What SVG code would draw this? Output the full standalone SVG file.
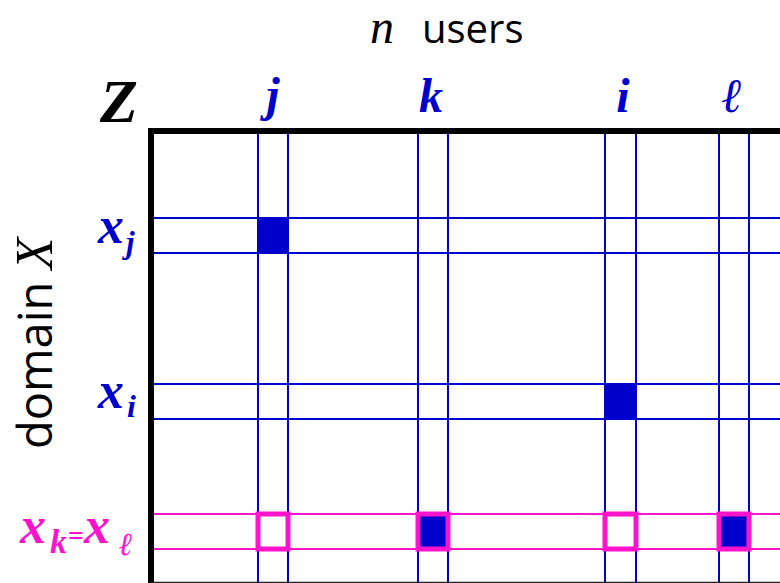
<svg xmlns="http://www.w3.org/2000/svg" width="780" height="583" viewBox="0 0 780 583">
<style>
.bl{stroke:#0000CC;stroke-width:2;fill:none}
.mg{stroke:#FF14CC;stroke-width:2;fill:none}
.mbox{stroke:#FF14CC;stroke-width:5}
.fill{fill:#0000CC}
.lbl{font-family:"Liberation Serif","DejaVu Serif",serif;font-weight:bold;font-style:italic}
.blue{fill:#0000CC}
.mag{fill:#FF14CC}
.sans{font-family:"Open Sans","Liberation Sans",sans-serif}
</style>
<rect width="780" height="583" fill="#fff"/>
<g id="title">
<text x="370" y="43" font-family="Liberation Serif, serif" font-style="italic" font-size="48">n</text>
<text x="422" y="43" class="sans" font-size="40">users</text>
</g>
<g id="domain-label">
<text transform="translate(52,449) rotate(-90)" class="sans" font-size="47">domain <tspan font-family="Liberation Serif, serif" font-style="italic" font-size="52">X</tspan></text>
</g>
<g id="connectors">
<line class="bl" x1="258" y1="131" x2="258" y2="583"/>
<line class="bl" x1="288" y1="131" x2="288" y2="583"/>
<line class="bl" x1="418" y1="131" x2="418" y2="583"/>
<line class="bl" x1="448" y1="131" x2="448" y2="583"/>
<line class="bl" x1="605" y1="131" x2="605" y2="583"/>
<line class="bl" x1="636" y1="131" x2="636" y2="583"/>
<line class="bl" x1="719" y1="131" x2="719" y2="583"/>
<line class="bl" x1="749" y1="131" x2="749" y2="583"/>
<line class="bl" x1="152" y1="218" x2="780" y2="218"/>
<line class="bl" x1="152" y1="253" x2="780" y2="253"/>
<line class="bl" x1="152" y1="384" x2="780" y2="384"/>
<line class="bl" x1="152" y1="419" x2="780" y2="419"/>
<line class="mg" x1="152" y1="514" x2="780" y2="514"/>
<line class="mg" x1="152" y1="549" x2="780" y2="549"/>
</g>
<g id="matrix-border">
<path d="M151 583 V131 H780" fill="none" stroke="#000" stroke-width="6"/>
<line x1="150" y1="582.5" x2="780" y2="582.5" stroke="#222" stroke-width="1.5"/>
</g>
<g id="cell-j"><rect class="fill" x="258" y="218" width="30" height="35"/></g>
<g id="cell-i"><rect class="fill" x="605" y="384" width="31" height="35"/></g>
<g id="cell-kl-j"><rect class="mbox" fill="none" x="258" y="514" width="30" height="35"/></g>
<g id="cell-kl-k"><rect class="mbox fill" x="418" y="514" width="30" height="35"/></g>
<g id="cell-kl-i"><rect class="mbox" fill="none" x="605" y="514" width="31" height="35"/></g>
<g id="cell-kl-l"><rect class="mbox fill" x="719" y="514" width="30" height="35"/></g>
<g id="col-labels" class="lbl blue" font-size="48" text-anchor="middle">
<text x="100" y="122" font-size="62" fill="#000" text-anchor="start">Z</text>
<text x="273" y="111">j</text>
<text x="431" y="112">k</text>
<text x="623" y="112">i</text>
<text x="732" y="112">ℓ</text>
</g>
<g id="row-labels" class="lbl">
<text class="blue" x="98" y="243" font-size="52">x</text>
<text class="blue" x="126" y="253" font-size="31">j</text>
<text class="blue" x="98" y="408" font-size="52">x</text>
<text class="blue" x="127" y="417" font-size="32">i</text>
<text class="mag" x="20" y="543" font-size="52">x</text>
<text class="mag" x="50" y="553" font-size="34">k</text>
<text class="mag" x="68" y="545" font-size="28" font-style="normal">=</text>
<text class="mag" x="84" y="543" font-size="52">x</text>
<text class="mag" x="119" y="555" font-size="32">ℓ</text>
</g>
</svg>
